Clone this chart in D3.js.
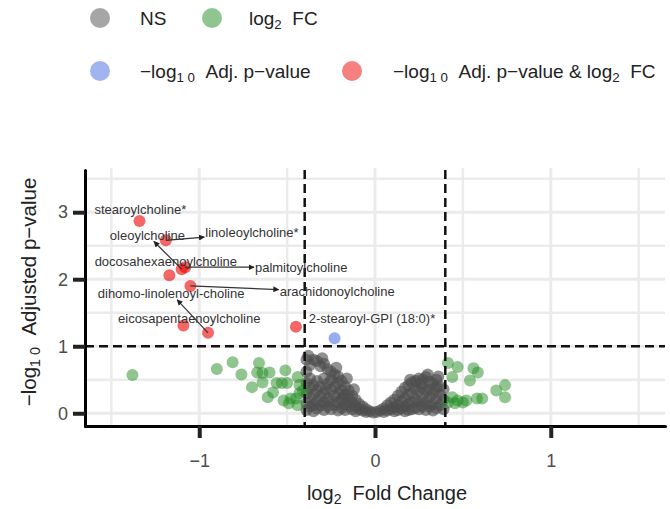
<!DOCTYPE html>
<html lang="en">
<head>
<meta charset="UTF-8">
<title>Volcano plot</title>
<script src="https://d3js.org/d3.v7.min.js"></script>
<style>
  body { margin: 0; background: #fff; }
  svg { font-family: "Liberation Sans", Arial, sans-serif; }
  .tick text { fill: #4d4d4d; }
  .lbl { font-size: 13px; fill: #333; }
</style>
</head>
<body>
<svg id="chart" width="670" height="509"></svg>
<script>
// not significant (grey)
const nsPoints = [
  [-0.39,0.80],[-0.39,0.62],[-0.39,0.45],[-0.39,0.30],[-0.39,0.15],[-0.39,0.05],
  [-0.37,0.72],[-0.37,0.52],[-0.37,0.38],[-0.37,0.22],[-0.37,0.10],
  [-0.35,0.80],[-0.35,0.42],[-0.35,0.28],[-0.35,0.12],[-0.35,0.03],
  [-0.33,0.78],[-0.33,0.48],[-0.33,0.34],[-0.33,0.18],[-0.33,0.07],
  [-0.31,0.70],[-0.31,0.40],[-0.31,0.25],[-0.31,0.12],
  [-0.29,0.74],[-0.29,0.52],[-0.29,0.30],[-0.29,0.16],[-0.29,0.05],
  [-0.27,0.66],[-0.27,0.44],[-0.27,0.22],[-0.27,0.10],
  [-0.25,0.62],[-0.25,0.50],[-0.25,0.35],[-0.25,0.18],[-0.25,0.06],
  [-0.23,0.58],[-0.23,0.40],[-0.23,0.26],[-0.23,0.12],
  [-0.21,0.55],[-0.21,0.45],[-0.21,0.30],[-0.21,0.16],[-0.21,0.04],
  [-0.19,0.48],[-0.19,0.34],[-0.19,0.20],[-0.19,0.08],
  [-0.17,0.40],[-0.17,0.28],[-0.17,0.14],[-0.17,0.05],
  [-0.15,0.34],[-0.15,0.22],[-0.15,0.10],
  [-0.13,0.26],[-0.13,0.16],[-0.13,0.06],
  [-0.11,0.20],[-0.11,0.10],[-0.11,0.03],
  [-0.09,0.14],[-0.09,0.06],[-0.07,0.10],[-0.07,0.04],
  [-0.05,0.06],[-0.05,0.02],[-0.03,0.03],[-0.01,0.01],
  [0.01,0.02],[0.03,0.04],[0.05,0.07],[0.05,0.02],
  [0.07,0.12],[0.07,0.04],[0.09,0.16],[0.09,0.06],
  [0.11,0.20],[0.11,0.09],[0.11,0.03],
  [0.13,0.26],[0.13,0.12],[0.13,0.05],
  [0.15,0.32],[0.15,0.18],[0.15,0.07],
  [0.17,0.38],[0.17,0.22],[0.17,0.10],[0.17,0.03],
  [0.19,0.42],[0.19,0.28],[0.19,0.14],[0.19,0.05],
  [0.21,0.46],[0.21,0.30],[0.21,0.16],[0.21,0.06],
  [0.23,0.48],[0.23,0.36],[0.23,0.20],[0.23,0.08],
  [0.25,0.52],[0.25,0.34],[0.25,0.18],[0.25,0.06],
  [0.27,0.50],[0.27,0.38],[0.27,0.22],[0.27,0.10],
  [0.29,0.54],[0.29,0.32],[0.29,0.16],[0.29,0.05],
  [0.31,0.47],[0.31,0.36],[0.31,0.24],[0.31,0.10],
  [0.33,0.44],[0.33,0.30],[0.33,0.14],[0.33,0.04],
  [0.35,0.50],[0.35,0.38],[0.35,0.22],[0.35,0.08],
  [0.37,0.40],[0.37,0.28],[0.37,0.12],
  [0.39,0.36],[0.39,0.20],[0.39,0.06],
  [-0.38,0.86],[-0.30,0.82],[-0.22,0.68],[-0.16,0.52],[-0.12,0.36],
  [0.20,0.50],[0.30,0.58],[0.36,0.55],[0.26,0.44],[-0.28,0.36],[-0.18,0.24]
];

// |log2 FC| > 0.4 only (green)
const fcPoints = [
  [-1.38,0.57],[-0.90,0.66],[-0.81,0.76],[-0.76,0.58],[-0.66,0.75],[-0.67,0.61],
  [-0.64,0.60],[-0.60,0.61],[-0.64,0.46],[-0.70,0.39],[-0.61,0.24],[-0.56,0.45],
  [-0.51,0.64],[-0.53,0.45],[-0.50,0.45],[-0.58,0.31],[-0.52,0.19],[-0.48,0.22],
  [-0.49,0.15],[-0.44,0.54],[-0.43,0.42],[-0.43,0.30],[-0.44,0.12],[-0.45,0.22],
  [-0.41,0.34],
  [0.415,0.75],[0.47,0.69],[0.44,0.54],[0.56,0.67],[0.585,0.61],[0.54,0.49],
  [0.69,0.34],[0.74,0.42],[0.74,0.24],[0.44,0.24],[0.47,0.19],[0.52,0.19],
  [0.58,0.22],[0.61,0.22],[0.415,0.16],[0.455,0.15],[0.50,0.16]
];

// adjusted p only (blue)
const pPoints = [[-0.23,1.12]];

// both (red), with label anchor (lx, ly) in data units
const bothPoints = [
  { name: "stearoylcholine*",          x: -1.34, y: 2.87, lx: -1.335, ly: 3.04, arrow: false },
  { name: "linoleoylcholine*",         x: -1.19, y: 2.58, lx: -0.70,  ly: 2.69, arrow: true },
  { name: "oleoylcholine",             x: -1.10, y: 2.15, lx: -1.295, ly: 2.66, arrow: true },
  { name: "palmitoylcholine",          x: -1.08, y: 2.18, lx: -0.42,  ly: 2.18, arrow: true },
  { name: "docosahexaenoylcholine",    x: -1.17, y: 2.06, lx: -1.19,  ly: 2.27, arrow: false },
  { name: "arachidonoylcholine",       x: -1.05, y: 1.90, lx: -0.215, ly: 1.81, arrow: true },
  { name: "dihomo-linolenoyl-choline", x: -0.95, y: 1.20, lx: -1.16,  ly: 1.79, arrow: true },
  { name: "eicosapentaenoylcholine",   x: -1.09, y: 1.31, lx: -1.057, ly: 1.42, arrow: false },
  { name: "2-stearoyl-GPI (18:0)*",    x: -0.45, y: 1.29, lx: -0.017, ly: 1.42, arrow: false }
];

const fcCut = 0.4;
const pCut = 1;
const xTicks = [-1, 0, 1];
const yTicks = [0, 1, 2, 3];
const xGrid = [-1.5, -1, -0.5, 0, 0.5, 1, 1.5];
const yGrid = [0, 0.5, 1, 1.5, 2, 2.5, 3, 3.5];

const colors = { ns: "#4d4d4d", fc: "#228b22", p: "#4169e1", both: "#ee0000" };

const svg = d3.select("#chart");

const x = d3.scaleLinear().domain([-1.65, 1.65]).range([85, 665]);
const y = d3.scaleLinear().domain([-0.19, 3.63]).range([426, 170]);

// grid
svg.append("g").selectAll("line").data(xGrid).join("line")
  .attr("x1", d => x(d)).attr("x2", d => x(d))
  .attr("y1", 168).attr("y2", 426)
  .attr("stroke", "#ebebeb").attr("stroke-width", d => Number.isInteger(d) ? 3 : 2.5);
svg.append("g").selectAll("line").data(yGrid).join("line")
  .attr("y1", d => y(d)).attr("y2", d => y(d))
  .attr("x1", 85).attr("x2", 665)
  .attr("stroke", "#ebebeb").attr("stroke-width", d => Number.isInteger(d) ? 3 : 2.5);

// points
function drawPts(data, col, op) {
  svg.append("g").selectAll("circle").data(data).join("circle")
    .attr("cx", d => x(d[0])).attr("cy", d => y(d[1]))
    .attr("r", 6).attr("fill", col).attr("fill-opacity", op);
}
drawPts(nsPoints, colors.ns, 0.62);
drawPts(fcPoints, colors.fc, 0.5);
drawPts(pPoints, colors.p, 0.55);
drawPts(bothPoints.map(d => [d.x, d.y]), colors.both, 0.6);

// cut-off lines
const cuts = svg.append("g").attr("stroke", "#111").attr("stroke-width", 2.5)
  .attr("stroke-dasharray", "9,5");
[-fcCut, fcCut].forEach(v => {
  cuts.append("line").attr("x1", x(v)).attr("x2", x(v)).attr("y1", 170).attr("y2", 426);
});
cuts.append("line").attr("x1", 85).attr("x2", 665).attr("y1", y(pCut)).attr("y2", y(pCut));

// labels + connectors
svg.append("defs").append("marker")
  .attr("id", "ah").attr("viewBox", "0 0 10 10").attr("refX", 9).attr("refY", 5)
  .attr("markerWidth", 5).attr("markerHeight", 5).attr("orient", "auto")
  .append("path").attr("d", "M0,0L10,5L0,10z").attr("fill", "#222");

const lblG = svg.append("g");
const segG = svg.insert("g", () => lblG.node());
bothPoints.forEach(d => {
  const t = lblG.append("text").attr("class", "lbl")
    .attr("x", x(d.lx)).attr("y", y(d.ly))
    .attr("text-anchor", "middle").attr("dominant-baseline", "central")
    .text(d.name);
  if (!d.arrow) return;
  const b = t.node().getBBox();
  const cx = b.x + b.width / 2, cy = b.y + b.height / 2;
  const px = x(d.x), py = y(d.y);
  const dx = cx - px, dy = cy - py;
  const hw = b.width / 2 + 1, hh = b.height / 2 - 1;
  // where the segment enters the label box
  const s = Math.min(hw / Math.abs(dx || 1e-9), hh / Math.abs(dy || 1e-9));
  segG.append("line")
    .attr("x1", px).attr("y1", py)
    .attr("x2", cx - dx * s).attr("y2", cy - dy * s)
    .attr("stroke", "#333").attr("stroke-width", 1.2)
    .attr("marker-end", "url(#ah)");
});

// axes
const xAxis = svg.append("g").attr("transform", "translate(0,426)")
  .call(d3.axisBottom(x).tickValues(xTicks).tickSize(12).tickSizeOuter(0).tickPadding(16)
    .tickFormat(d3.format("d")));
const yAxis = svg.append("g").attr("transform", "translate(85,0)")
  .call(d3.axisLeft(y).tickValues(yTicks).tickSize(12).tickSizeOuter(0).tickPadding(5)
    .tickFormat(d3.format("d")));
[xAxis, yAxis].forEach(a => {
  a.select(".domain").attr("stroke", "#000").attr("stroke-width", 3).attr("stroke-linecap", "round");
  a.selectAll(".tick line").attr("stroke", "#222").attr("stroke-width", 4);
  a.selectAll(".tick text").attr("font-size", 18);
});

// rich text helper: parts of [text, isSub]
function rich(sel, parts, size) {
  parts.forEach(([s, sub]) => {
    sel.append("tspan").text(s)
      .attr("font-size", sub ? size * 0.7 : size)
      .attr("baseline-shift", sub ? "-30%" : null);
  });
  return sel;
}

// axis titles
rich(svg.append("text").attr("x", 387).attr("y", 500).attr("text-anchor", "middle")
  .attr("fill", "#222"), [["log", false], ["2", true], ["\u00a0\u00a0Fold Change", false]], 20);
rich(svg.append("text").attr("transform", "translate(36,292) rotate(-90)")
  .attr("text-anchor", "middle").attr("fill", "#222"),
  [["\u2212log", false], ["1\u00a00", true], ["\u00a0\u00a0Adjusted p\u2212value", false]], 20.5);

// legend
const legend = [
  { cx: 100, cy: 18, col: colors.ns, tx: 140, parts: [["NS", false]] },
  { cx: 212, cy: 18, col: colors.fc, tx: 249, parts: [["log", false], ["2", true], ["\u00a0\u00a0FC", false]] },
  { cx: 100, cy: 71, col: colors.p, tx: 140, parts: [["\u2212log", false], ["1\u00a00", true], ["\u00a0\u00a0Adj. p\u2212value", false]] },
  { cx: 352, cy: 71, col: colors.both, tx: 393, parts: [["\u2212log", false], ["1\u00a00", true], ["\u00a0\u00a0Adj. p\u2212value & log", false], ["2", true], ["\u00a0\u00a0FC", false]] }
];
legend.forEach(l => {
  svg.append("circle").attr("cx", l.cx).attr("cy", l.cy).attr("r", 10)
    .attr("fill", l.col).attr("fill-opacity", 0.5);
  rich(svg.append("text").attr("x", l.tx).attr("y", l.cy + 6.5).attr("fill", "#222"), l.parts, 19);
});
</script>
</body>
</html>
